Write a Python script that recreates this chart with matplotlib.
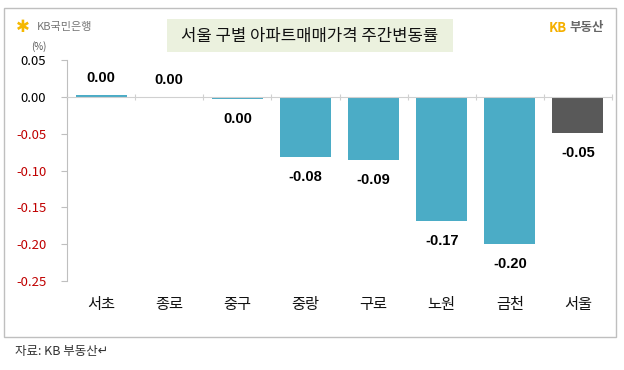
import matplotlib.pyplot as plt
from matplotlib.patches import Rectangle

plt.rcParams['font.family'] = ['Noto Sans CJK KR', 'DejaVu Sans']

# data
districts = ["서초", "종로", "중구", "중랑", "구로", "노원", "금천", "서울"]
changes = [0.003, 0.0, -0.003, -0.081, -0.086, -0.168, -0.200, -0.049]
labels = ["0.00", "0.00", "0.00", "-0.08", "-0.09", "-0.17", "-0.20", "-0.05"]
yticks = [0.05, 0.00, -0.05, -0.10, -0.15, -0.20, -0.25]

teal = "#4BACC6"
grey_bar = "#595959"
colors = [teal] * 7 + [grey_bar]

fig = plt.figure(figsize=(6.24, 3.70), dpi=100)
W, H = 624, 370

# outer frame
fig.patches.append(Rectangle((4 / W, 1 - 337 / H), 612 / W, 329 / H,
                             transform=fig.transFigure, fill=False,
                             edgecolor="#BFBFBF", linewidth=1))

ax = fig.add_axes([67 / W, 1 - 281 / H, 545 / W, 221 / H])
x = range(len(districts))
ax.bar(x, changes, width=0.75, color=colors, zorder=2)

ax.set_xlim(-0.5, len(districts) - 0.5)
ax.set_ylim(-0.25, 0.05)
ax.set_yticks(yticks)
ax.set_yticklabels([f"{t:.2f}" for t in yticks], fontsize=9.5)
for lab, t in zip(ax.get_yticklabels(), yticks):
    lab.set_color("#000000" if t >= 0 else "#C00000")
ax.tick_params(axis="y", length=4, color="#BFBFBF", pad=11)

for s in ["top", "right"]:
    ax.spines[s].set_visible(False)
ax.spines["left"].set_color("#BFBFBF")
ax.spines["bottom"].set_position(("data", 0))
ax.spines["bottom"].set_color("#D0D0D0")
ax.set_xticks([i - 0.5 for i in range(len(districts) + 1)])
ax.set_xticklabels([])
ax.tick_params(axis="x", length=4, direction="inout", color="#D0D0D0")

# category labels
for i, d in enumerate(districts):
    ax.text(i, -0.108, d, transform=ax.get_xaxis_transform(), ha="center",
            va="center", fontsize=11, color="#111111")

# value labels
for i, (v, lab) in enumerate(zip(changes, labels)):
    if v >= 0:
        ax.text(i, v + 0.013, lab, ha="center", va="bottom", fontsize=10.5,
                fontweight="bold", family=["Liberation Sans", "DejaVu Sans"])
    else:
        ax.text(i, v - 0.018, lab, ha="center", va="top", fontsize=10.5,
                fontweight="bold", family=["Liberation Sans", "DejaVu Sans"])

# title box
fig.patches.append(Rectangle((167 / W, 1 - 52 / H), 286 / W, 33 / H,
                             transform=fig.transFigure, facecolor="#EBF1DE",
                             edgecolor="none"))
fig.text(310 / W, 1 - 36 / H, "서울 구별 아파트매매가격 주간변동률", ha="center",
         va="center", fontsize=12, color="#111111")

# logos
fig.text(16 / W, 1 - 27 / H, "✱", ha="left", va="center", fontsize=12,
         color="#F5B800", family=["DejaVu Sans"])
fig.text(37 / W, 1 - 27 / H, "KB국민은행", ha="left", va="center", fontsize=8,
         color="#777777")
fig.text(549 / W, 1 - 28 / H, "KB", ha="left", va="center", fontsize=9.5,
         fontweight="bold", color="#F5B000")
fig.text(569 / W, 1 - 28 / H, "부동산", ha="left", va="center", fontsize=9,
         fontweight="bold", color="#666666")

fig.text(39 / W, 1 - 47 / H, "(%)", ha="center", va="center", fontsize=7,
         color="#555555")
fig.text(15 / W, 1 - 352 / H, "자료: KB 부동산↵", ha="left", va="center",
         fontsize=9, color="#333333")

fig.savefig("out.png", dpi=100)
